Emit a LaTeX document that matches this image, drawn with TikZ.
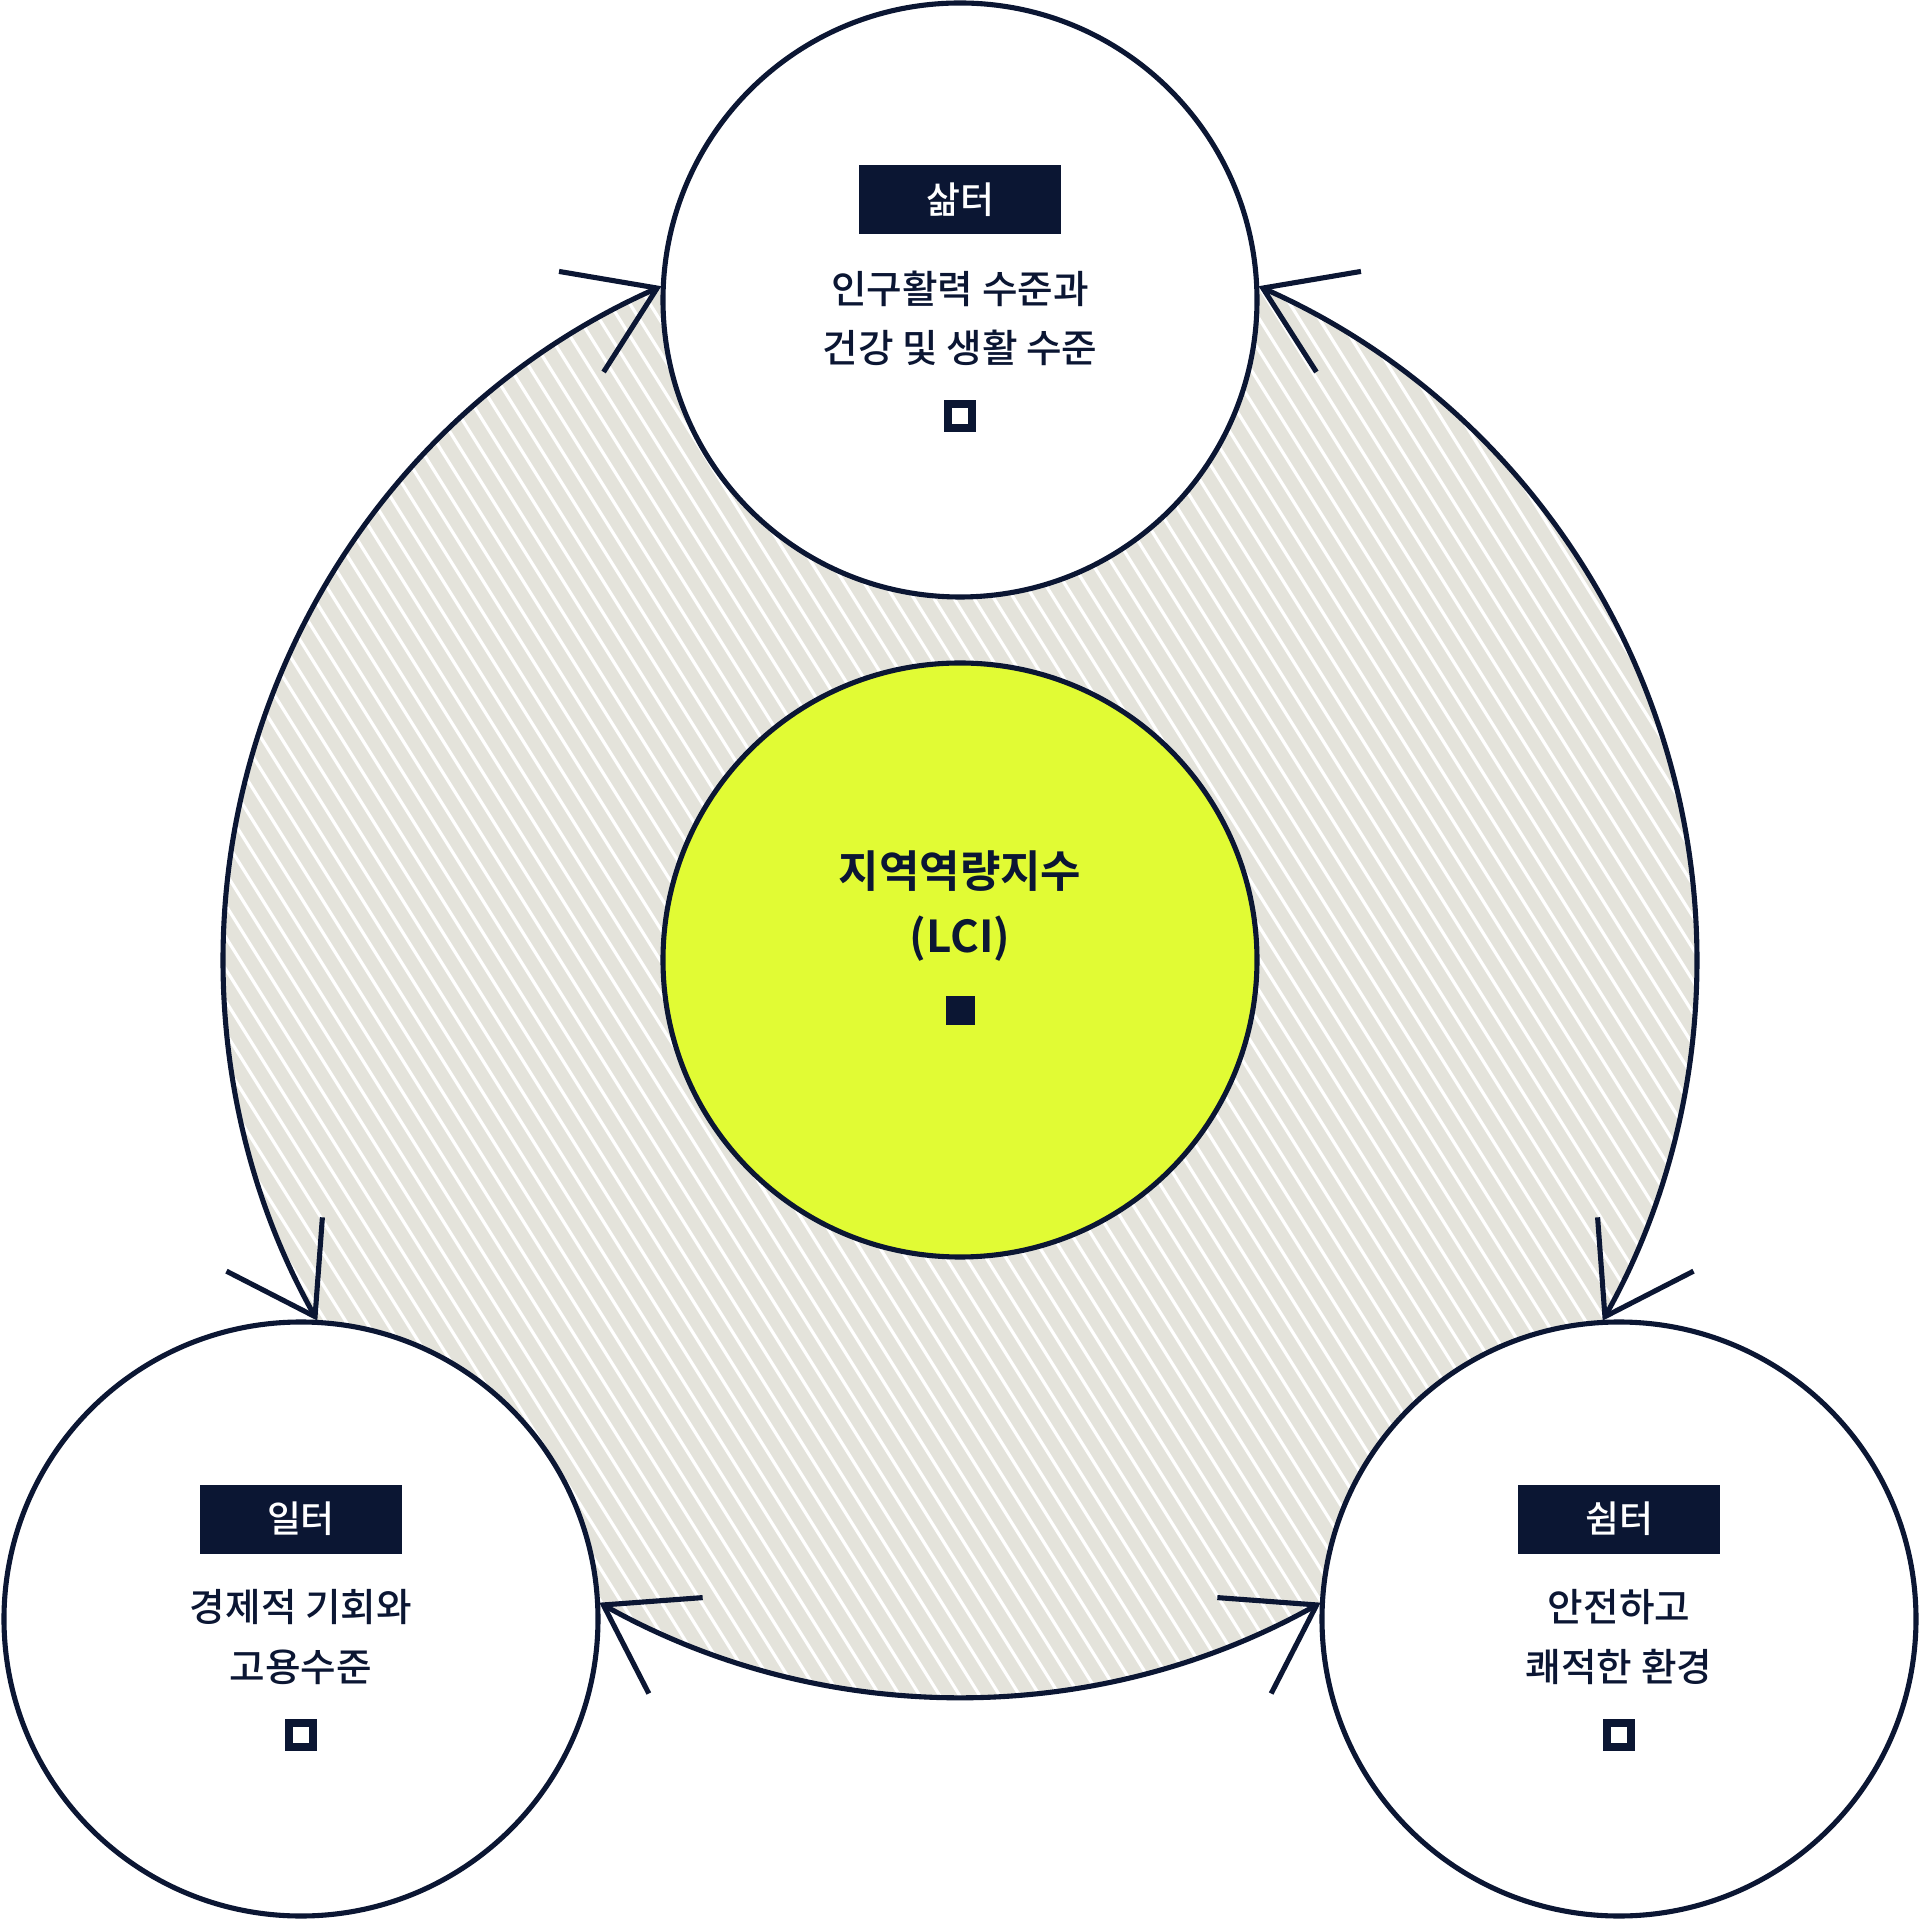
\documentclass[tikz,border=0pt]{standalone}
\usepackage{fontspec}
\setmainfont{Noto Sans CJK KR Medium}[BoldFont={Noto Sans CJK KR Bold}]
\usepackage{xcolor}
\usepackage{tikz}
\usetikzlibrary{arrows.meta,positioning,calc}
\definecolor{navy}{HTML}{0B1633}
\definecolor{lime}{HTML}{E1FB34}
\definecolor{hatchbg}{HTML}{E4E3DB}

\begin{document}
\begin{tikzpicture}[
  ring/.style={
    circle, draw=navy, line width=1.45pt, fill=white,
    minimum size=5.94cm, inner sep=0pt
  },
  tag/.style={
    fill=navy, text=white, minimum width=2.02cm, minimum height=0.69cm,
    inner sep=0pt, font=\fontsize{10.5}{12}\selectfont
  },
  desc/.style={
    text=navy, align=center, inner sep=0pt,
    font=\fontsize{11}{16.8}\selectfont
  },
  openbox/.style={draw=navy, line width=2pt, minimum size=2.4mm, inner sep=0pt},
  fullbox/.style={fill=navy, minimum size=2.9mm, inner sep=0pt},
  hatch/.style={white, line width=0.9pt},
  link/.style={
    {Straight Barb[length=8.3mm,width=11mm]}-{Straight Barb[length=8.3mm,width=11mm]},
    navy, line width=1.45pt
  }
]
  \useasboundingbox (-9.6,-9.6) rectangle (9.6,9.6);

  % Outer ring: striped fill
  \begin{scope}
    \clip (0,0) circle (7.37);
    \fill[hatchbg] (-7.4,-7.4) rectangle (7.4,7.4);
    \foreach \x in {-13.0,-12.8,...,13.0}
      \draw[hatch] (\x-6,9.6) -- (\x+6,-9.6);
  \end{scope}

  % Three domains + index in the middle
  \node[ring] (life) at (0,    6.6)   {};
  \node[ring] (work) at (-6.59,-6.59) {};
  \node[ring] (rest) at (6.59, -6.59) {};
  \node[ring, fill=lime] (lci) at (0,0) {};

  \node[tag]  (life-tag)  at ([yshift=10mm]life.center)   {삶터};
  \node[desc] (life-desc) at ([yshift=-1.8mm]life.center) {인구활력 수준과\\건강 및 생활 수준};
  \node[openbox] (life-box) at ([yshift=-11.6mm]life.center) {};

  \node[tag]  (work-tag)  at ([yshift=10mm]work.center)   {일터};
  \node[desc] (work-desc) at ([yshift=-1.8mm]work.center) {경제적 기회와\\고용수준};
  \node[openbox] (work-box) at ([yshift=-11.6mm]work.center) {};

  \node[tag]  (rest-tag)  at ([yshift=10mm]rest.center)   {쉼터};
  \node[desc] (rest-desc) at ([yshift=-1.8mm]rest.center) {안전하고\\쾌적한 환경};
  \node[openbox] (rest-box) at ([yshift=-11.6mm]rest.center) {};

  \node[desc, font=\fontsize{12.5}{18.5}\selectfont\bfseries] (lci-desc)
    at ([yshift=5.4mm]lci.center) {지역역량지수\\(LCI)};
  \node[fullbox] (lci-box) at ([yshift=-5.1mm]lci.center) {};

  % Where the ring meets each domain
  \coordinate (life-w) at (113.9:7.37);
  \coordinate (life-e) at (66.1:7.37);
  \coordinate (work-n) at (209.3:7.37);
  \coordinate (work-e) at (240.7:7.37);
  \coordinate (rest-n) at (-29.3:7.37);
  \coordinate (rest-w) at (-60.7:7.37);

  \draw[link] (life-w) arc[start angle=113.9, end angle=209.3, radius=7.37];
  \draw[link] (life-e) arc[start angle=66.1,  end angle=-29.3, radius=7.37];
  \draw[link] (work-e) arc[start angle=240.7, end angle=299.3, radius=7.37];
\end{tikzpicture}
\end{document}
